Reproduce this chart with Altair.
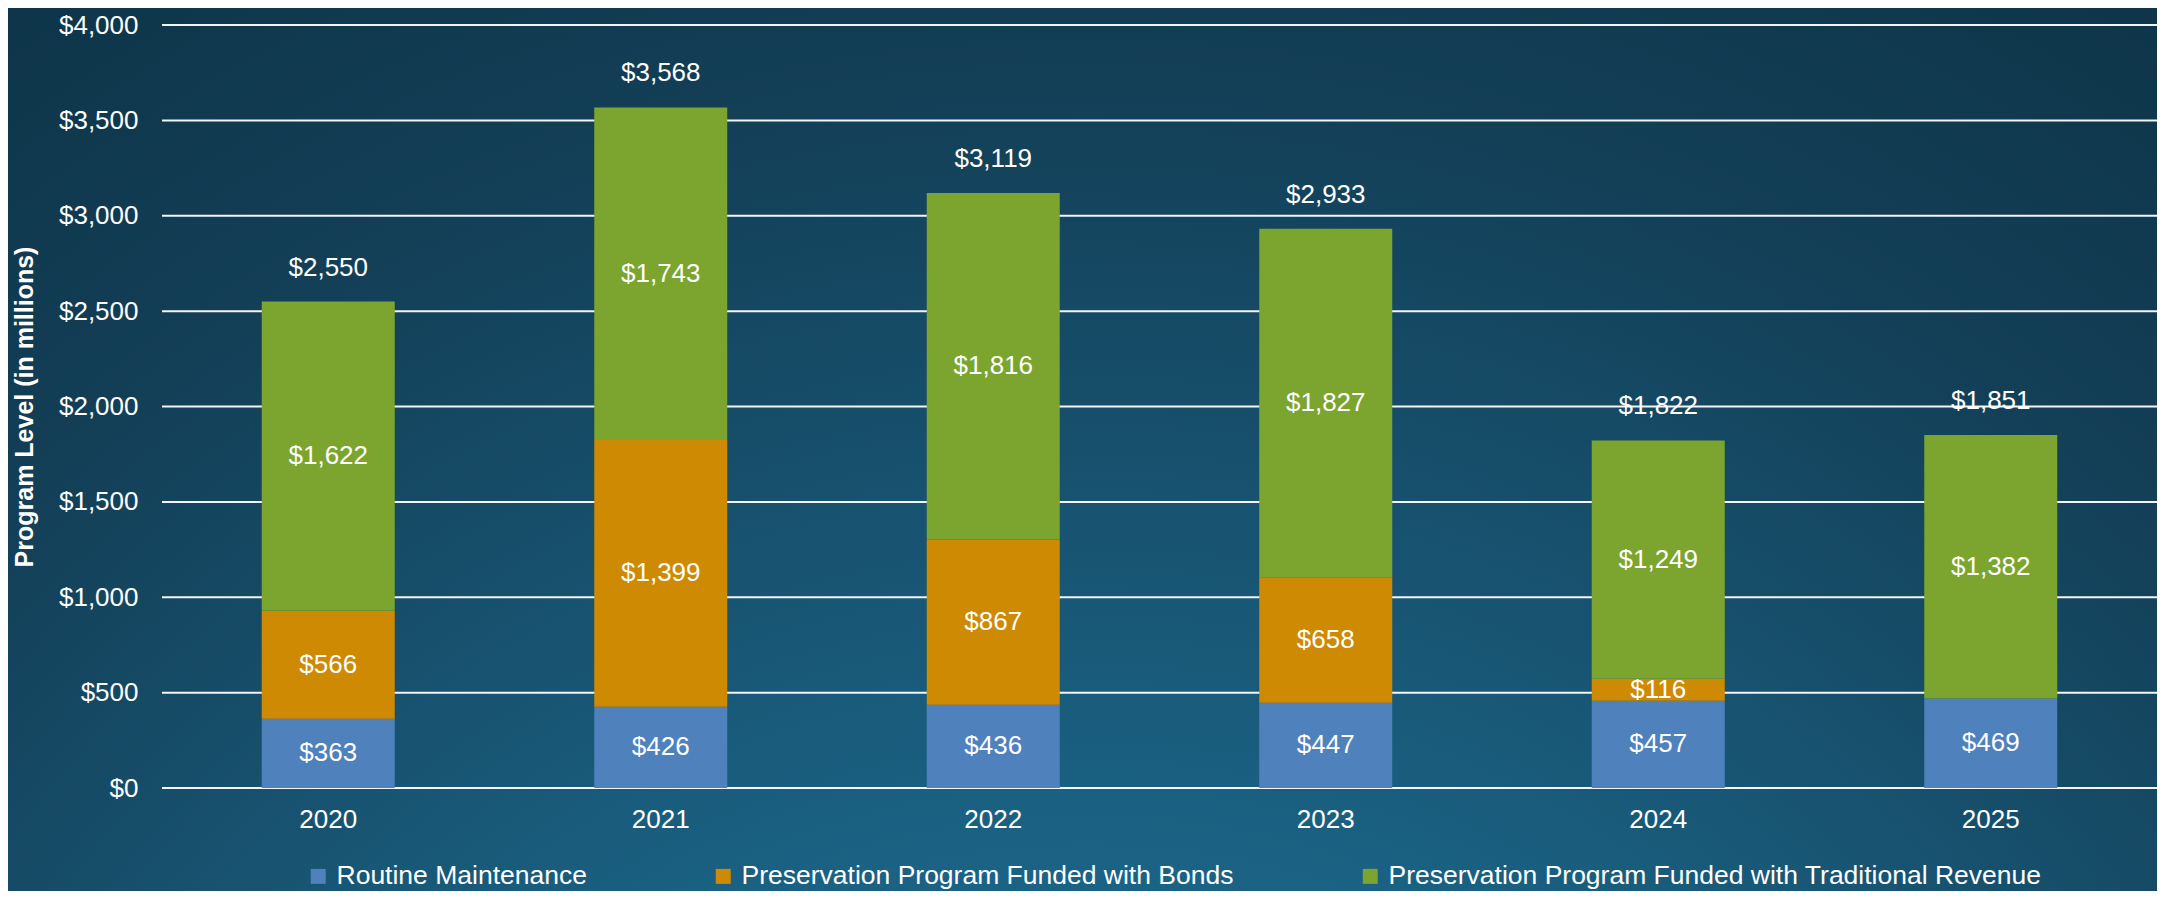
import altair as alt
import pandas as pd

years = ["2020", "2021", "2022", "2023", "2024", "2025"]
routine = [363, 426, 436, 447, 457, 469]
bonds = [566, 1399, 867, 658, 116, 0]
traditional = [1622, 1743, 1816, 1827, 1249, 1382]
totals = [2550, 3568, 3119, 2933, 1822, 1851]
series = [
    "Routine Maintenance",
    "Preservation Program Funded with Bonds",
    "Preservation Program Funded with Traditional Revenue",
]
colors = ["#4f81bd", "#ce8a03", "#7ba52e"]
grid_values = [0, 500, 1000, 1500, 2000, 2500, 3000, 3500, 4000]

rows = []
for i, y in enumerate(years):
    base = 0
    for k, (name, vals) in enumerate(zip(series, [routine, bonds, traditional])):
        v = vals[i]
        rows.append({"year": y, "series": name, "order": k, "value": v,
                     "start": base, "end": base + v, "mid": base + v / 2,
                     "label": f"${v:,}"})
        base += v
df = pd.DataFrame(rows)
tot = pd.DataFrame({"year": years, "total": totals,
                    "label": [f"${t:,}" for t in totals]})
grid = pd.DataFrame({"g": grid_values})

W, H = 1995, 763
TOP, BOTTOM = 17, 103
FONT = "Liberation Sans"

xenc = alt.X("year:N", sort=years,
             scale=alt.Scale(paddingInner=0.6, paddingOuter=0.3),
             axis=alt.Axis(title=None, labelAngle=0, labelColor="white",
                           labelFontSize=26, labelFont=FONT, labelPadding=18,
                           ticks=False, tickSize=0, domain=False, grid=False,
                           zindex=1))
yscale = alt.Scale(domain=[0, 4000])

bg = alt.Chart(alt.Data(values=[{}])).mark_rect(
    fill=alt.RadialGradient(
        gradient="radial",
        stops=[alt.GradientStop(offset=0, color="#2079a4"),
               alt.GradientStop(offset=0.45, color="#1a5f80"),
               alt.GradientStop(offset=0.8, color="#133f57"),
               alt.GradientStop(offset=1, color="#0e3549")],
        x1=0.5, y1=1.05, r1=0, x2=0.5, y2=1.05, r2=0.9),
    clip=False,
).encode(x=alt.value(-160), x2=alt.value(W + 10),
         y=alt.value(-TOP - 5), y2=alt.value(H + BOTTOM + 10))

rules = alt.Chart(grid).mark_rule(color="white", strokeWidth=2, opacity=0.95).encode(
    y=alt.Y("g:Q", scale=yscale)
)

bars = alt.Chart(df).mark_bar().encode(
    x=xenc,
    y=alt.Y("start:Q", scale=yscale,
            axis=alt.Axis(title="Program Level (in millions)", format="$,.0f",
                          values=grid_values, labelColor="white",
                          labelFontSize=26, labelFont=FONT, labelPadding=24,
                          ticks=False, tickSize=0, domain=False, grid=False,
                          titleColor="white", titleFontSize=25, titleFont=FONT,
                          titleFontWeight="bold", titlePadding=21, zindex=1)),
    y2="end:Q",
    color=alt.Color("series:N", scale=alt.Scale(domain=series, range=colors),
                    legend=alt.Legend(title=None, orient="none", direction="horizontal",
                                      legendX=143, legendY=H + 75, padding=0,
                                      symbolType="square", symbolSize=225,
                                      symbolStrokeWidth=0, labelColor="white",
                                      labelFontSize=26.5, labelFont=FONT,
                                      labelOffset=5, columnPadding=123,
                                      labelLimit=1000)),
)

seg_text = alt.Chart(df).transform_filter("datum.value > 0").mark_text(
    color="white", fontSize=26, font=FONT, baseline="middle"
).encode(x=alt.X("year:N", sort=years), y=alt.Y("mid:Q", scale=yscale),
         text="label:N")

tot_text = alt.Chart(tot).mark_text(
    color="white", fontSize=26, font=FONT, baseline="middle", dy=-34
).encode(x=alt.X("year:N", sort=years), y=alt.Y("total:Q", scale=yscale),
         text="label:N")

chart = alt.layer(bg, rules, bars, seg_text, tot_text).properties(
    width=W, height=H,
    autosize=alt.AutoSizeParams(type="none"),
    padding={"left": 154, "top": TOP, "right": 0, "bottom": BOTTOM},
    background="#123f57",
).configure_view(stroke=None)

chart.save("out.html", embed_options={"renderer": "svg", "actions": False})
